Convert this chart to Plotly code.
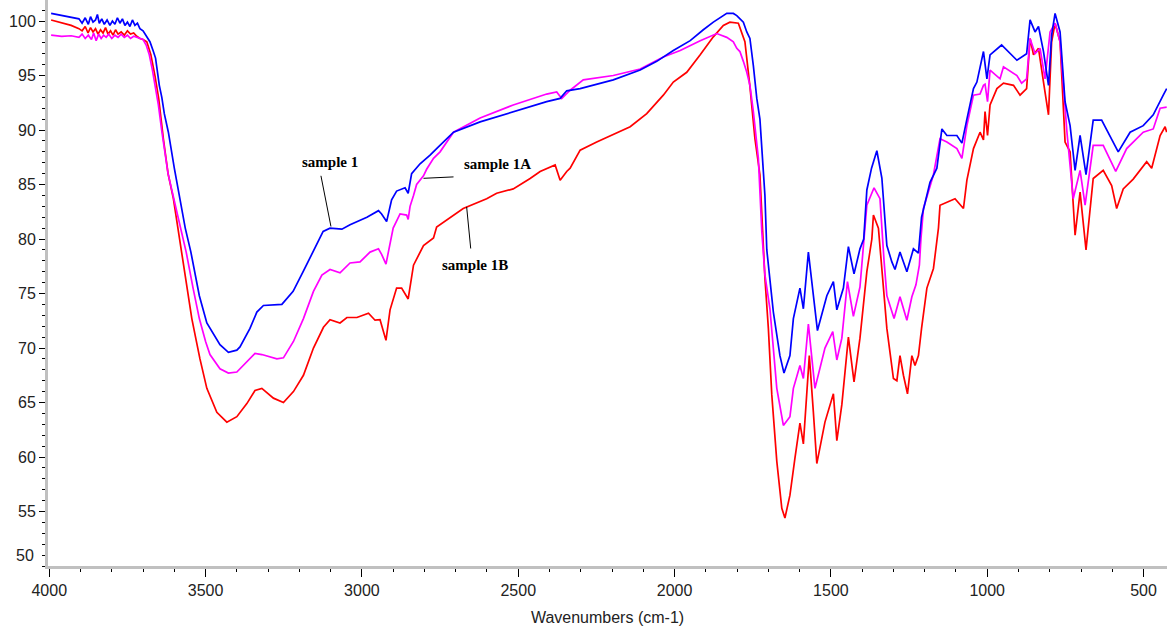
import plotly.graph_objects as go

# ---- FT-IR transmittance spectra (wavenumber in cm-1, %T) ----
wn_s1 = [3994, 3960, 3930, 3905, 3895, 3885, 3875, 3868, 3860, 3852, 3846, 3840, 3832, 3824,
         3815, 3806, 3798, 3790, 3782, 3774, 3766, 3758, 3750, 3742, 3734, 3726, 3718, 3710,
         3700, 3690, 3678, 3668, 3660, 3648, 3640, 3632, 3619, 3600, 3582, 3565, 3547, 3520,
         3496, 3470, 3454, 3427, 3400, 3390, 3358, 3336, 3315, 3256, 3220, 3188, 3156, 3124,
         3102, 3064, 3038, 2984, 2947, 2937, 2921, 2905, 2889, 2862, 2852, 2841, 2814, 2793,
         2782, 2761, 2740, 2707, 2622, 2516, 2409, 2366, 2345, 2302, 2196, 2110, 2057, 2004,
         1950, 1908, 1876, 1833, 1812, 1801, 1791, 1780, 1769, 1759, 1748, 1737, 1727, 1721,
         1711, 1705, 1684, 1663, 1650, 1631, 1620, 1599, 1588, 1572, 1556, 1543, 1513, 1492,
         1481, 1460, 1444, 1426, 1407, 1395, 1385, 1370, 1353, 1337, 1321, 1305, 1295, 1279,
         1257, 1236, 1220, 1215, 1210, 1183, 1161, 1145, 1129, 1097, 1081, 1065, 1044, 1033,
         1012, 1001, 991, 954, 905, 874, 863, 847, 836, 820, 804, 794, 783, 767, 751, 735, 719,
         703, 684, 661, 634, 581, 543, 501, 469, 437, 426]
t_s1 = [100.7, 100.5, 100.35, 100.2, 99.8, 100.3, 99.7, 100.4, 99.9, 100.1, 100.6, 99.8, 100.2, 99.7,
        100.1, 99.6, 100.0, 99.7, 100.3, 99.8, 100.2, 99.6, 99.9, 99.5, 100.1, 99.6, 99.8, 99.3,
        99.1, 98.6, 98.1, 97.3, 96.6, 94.1, 93.0, 91.5, 89.8, 86.5, 83.7, 81.0, 78.8, 74.8,
        72.3, 71.0, 70.3, 69.6, 69.8, 70.1, 71.8, 73.3, 73.9, 74.0, 75.2, 77.0, 78.9, 80.7,
        81.0, 80.9, 81.3, 82.0, 82.6, 82.3, 81.6, 83.6, 84.4, 84.7, 84.2, 86.0, 86.9, 87.4,
        87.7, 88.3, 88.9, 89.8, 90.75, 91.7, 92.6, 92.9, 93.6, 93.8, 94.6, 95.5, 96.3, 97.3,
        98.2, 99.2, 99.9, 100.7, 100.7, 100.5, 100.2, 99.9, 99.0, 98.4, 95.9, 92.9, 91.0, 88.0,
        84.0, 79.0, 73.3, 69.3, 67.7, 69.3, 72.7, 75.5, 73.6, 78.8, 74.8, 71.6, 74.8, 76.1,
        73.5, 75.5, 79.3, 76.8, 79.1, 80.0, 84.5, 86.5, 88.1, 85.6, 79.4, 77.9, 77.2, 78.8,
        77.0, 79.1, 78.7, 80.2, 82.0, 85.2, 86.5, 90.1, 89.5, 89.5, 88.8, 91.0, 93.8, 94.4,
        97.2, 94.7, 96.9, 97.8, 96.4, 97.0, 100.1, 99.0, 99.5, 97.2, 94.1, 98.7, 100.7, 99.0,
        92.6, 90.4, 86.3, 89.5, 85.9, 90.9, 90.9, 88.0, 89.8, 90.4, 91.4, 93.2, 93.8]

wn_s1a = [3994, 3960, 3930, 3905, 3895, 3885, 3875, 3865, 3858, 3850, 3842, 3834, 3826, 3818,
          3810, 3800, 3790, 3780, 3770, 3760, 3750, 3740, 3730, 3720, 3710, 3700, 3690, 3680,
          3670, 3662, 3651, 3640, 3620, 3592, 3562, 3540, 3520, 3500, 3486, 3454, 3427, 3400,
          3368, 3342, 3320, 3272, 3251, 3219, 3187, 3155, 3128, 3102, 3070, 3038, 3006, 2974,
          2947, 2937, 2923, 2910, 2900, 2878, 2857, 2852, 2846, 2835, 2825, 2803, 2793, 2771,
          2750, 2707, 2622, 2516, 2409, 2377, 2361, 2334, 2292, 2196, 2110, 2036, 1982, 1918,
          1865, 1833, 1812, 1801, 1791, 1780, 1769, 1759, 1748, 1732, 1721, 1711, 1695, 1673,
          1652, 1631, 1620, 1599, 1588, 1572, 1551, 1519, 1494, 1481, 1465, 1447, 1428, 1407,
          1391, 1385, 1362, 1343, 1330, 1321, 1298, 1279, 1257, 1241, 1228, 1217, 1212, 1204,
          1172, 1151, 1129, 1097, 1081, 1065, 1044, 1023, 1012, 1007, 999, 991, 959, 948, 905,
          890, 874, 863, 847, 831, 815, 799, 783, 767, 745, 725, 703, 687, 661, 629, 589, 554,
          501, 469, 447, 426]
t_s1a = [98.7, 98.6, 98.65, 98.5, 98.8, 98.4, 98.7, 98.3, 98.9, 98.2, 98.8, 98.4, 98.7, 98.5,
         98.8, 98.4, 98.7, 98.5, 98.8, 98.5, 98.7, 98.4, 98.6, 98.5, 98.45, 98.3, 97.8, 96.9,
         95.5, 94.3, 92.3, 89.9, 86.0, 82.5, 78.8, 75.5, 72.7, 70.6, 69.4, 68.1, 67.7, 67.8,
         68.7, 69.5, 69.4, 69.0, 69.1, 70.6, 72.7, 75.2, 76.7, 77.2, 76.9, 77.8, 77.9, 78.8,
         79.1, 78.6, 77.7, 79.4, 81.0, 82.3, 82.2, 81.8, 83.0, 84.0, 85.0, 85.8, 86.4, 87.4,
         88.0, 89.8, 91.1, 92.3, 93.3, 93.5, 92.9, 93.65, 94.6, 95.0, 95.6, 96.7, 97.3, 98.2,
         98.85, 98.5, 98.1, 97.5, 97.2, 96.3, 95.3, 94.1, 91.7, 87.4, 80.7, 76.7, 73.6, 66.3,
         62.9, 63.7, 66.3, 68.4, 67.2, 72.2, 66.3, 70.0, 71.5, 68.9, 70.9, 76.1, 72.9, 75.6,
         81.0, 83.1, 84.7, 83.7, 78.0, 74.8, 72.7, 74.7, 72.55, 74.7, 75.8, 77.6, 80.0, 82.8,
         85.9, 89.2, 88.9, 88.3, 87.4, 90.4, 93.2, 93.3, 94.1, 94.2, 92.6, 95.5, 94.7, 95.8, 95.0,
         94.3, 94.7, 98.4, 97.0, 97.5, 94.7, 99.0, 99.8, 98.1, 89.8, 83.7, 86.3, 83.1, 88.6, 88.6,
         86.2, 88.3, 89.8, 90.1, 92.0, 92.1]

wn_s1b = [3994, 3960, 3930, 3905, 3895, 3885, 3876, 3868, 3860, 3852, 3844, 3836, 3828, 3820,
          3812, 3804, 3796, 3788, 3780, 3770, 3760, 3750, 3740, 3730, 3720, 3710, 3700, 3688,
          3675, 3662, 3650, 3635, 3620, 3603, 3576, 3560, 3544, 3530, 3518, 3496, 3464, 3432,
          3400, 3368, 3342, 3320, 3283, 3251, 3219, 3187, 3155, 3123, 3102, 3070, 3048, 3016,
          2979, 2958, 2942, 2923, 2910, 2889, 2873, 2852, 2846, 2835, 2803, 2771, 2761, 2707,
          2676, 2601, 2569, 2516, 2462, 2430, 2382, 2366, 2345, 2334, 2302, 2249, 2142, 2089,
          2036, 2004, 1961, 1918, 1876, 1844, 1823, 1796, 1775, 1759, 1743, 1727, 1716, 1711,
          1700, 1689, 1673, 1657, 1647, 1631, 1615, 1599, 1588, 1569, 1556, 1545, 1519, 1492,
          1481, 1465, 1444, 1426, 1407, 1385, 1369, 1364, 1348, 1337, 1321, 1300, 1289, 1279,
          1268, 1255, 1241, 1231, 1220, 1210, 1193, 1172, 1156, 1151, 1103, 1076, 1065, 1044,
          1023, 1012, 1007, 999, 991, 969, 948, 916, 895, 874, 863, 852, 836, 820, 804, 794, 783,
          767, 751, 735, 719, 703, 684, 661, 629, 602, 586, 565, 533, 490, 474, 447, 431, 426]
t_s1b = [100.1, 99.8, 99.6, 99.3, 99.1, 99.5, 98.9, 99.4, 99.0, 99.3, 98.8, 99.2, 98.9, 99.4,
         98.8, 99.1, 98.7, 99.2, 98.8, 99.0, 98.7, 99.1, 98.8, 98.9, 98.6, 98.4, 98.3, 98.1,
         96.9, 95.0, 92.9, 89.2, 86.0, 83.7, 78.8, 75.8, 72.7, 70.7, 69.0, 66.3, 64.1, 63.2,
         63.7, 64.9, 66.1, 66.3, 65.4, 65.0, 66.0, 67.5, 70.0, 71.9, 72.6, 72.3, 72.8, 72.8,
         73.2, 72.55, 72.6, 70.7, 73.5, 75.5, 75.5, 74.5, 75.6, 77.6, 79.4, 80.1, 81.1, 82.2,
         82.8, 83.7, 84.2, 84.6, 85.55, 86.2, 86.8, 85.4, 86.2, 86.5, 88.15, 88.9, 90.3, 91.5,
         93.2, 94.4, 95.3, 96.9, 98.55, 99.6, 99.9, 99.8, 98.1, 94.0, 89.2, 85.9, 80.0, 76.4,
         71.8, 65.7, 59.6, 55.3, 54.4, 56.5, 59.9, 63.1, 61.2, 69.3, 64.1, 59.4, 63.2, 65.8,
         61.5, 64.8, 71.0, 66.9, 70.9, 77.0, 80.0, 82.2, 81.0, 77.3, 71.8, 67.2, 67.0, 69.3,
         67.5, 65.8, 69.3, 68.4, 69.3, 71.8, 75.5, 77.3, 81.0, 83.1, 83.7, 82.8, 85.4, 88.3,
         89.8, 89.1, 91.7, 89.5, 92.3, 93.8, 94.3, 94.1, 93.2, 93.8, 98.4, 96.9, 97.5, 94.4, 91.4,
         98.1, 99.8, 98.1, 88.9, 88.0, 80.35, 84.3, 79.0, 85.55, 86.3, 84.9, 82.8, 84.6, 85.5,
         87.1, 86.5, 89.5, 90.3, 89.8]

series_names = ["sample 1B", "sample 1A", "sample 1"]
series_colors = ["#FF0000", "#FF00FF", "#0000FF"]

# Callout labels: text, text anchor (wn, %T), leader line from (wn, %T) to (wn, %T)
callouts = [
    ("sample 1", (3102, 87.1), (3131, 85.8), (3099, 81.15)),
    ("sample 1A", (2567, 86.9), (2803, 85.57), (2707, 85.7)),
    ("sample 1B", (2638, 77.6), (2665, 82.95), (2652, 79.13)),
]

y_ticks = [55, 60, 65, 70, 75, 80, 85, 90, 95, 100]

fig = go.Figure()
for wn, t, name, col in zip([wn_s1b, wn_s1a, wn_s1], [t_s1b, t_s1a, t_s1],
                            series_names, series_colors):
    fig.add_trace(go.Scatter(x=wn, y=t, mode="lines", name=name,
                             line=dict(color=col, width=1.7), showlegend=False))

label_font = dict(family="Liberation Serif, Times New Roman, serif", size=15, color="black")
for text, (tx, ty), (x0, y0), (x1, y1) in callouts:
    fig.add_annotation(x=tx, y=ty, text=f"<b>{text}</b>", showarrow=False, font=label_font,
                       xref="x", yref="y")
    fig.add_shape(type="line", x0=x0, y0=y0, x1=x1, y1=y1, xref="x", yref="y",
                  line=dict(color="black", width=1))

# lowest y tick label sits just above the x axis line
fig.add_annotation(x=0, xref="paper", xanchor="right", xshift=-12, y=50, yref="y",
                   yshift=11, text="50", showarrow=False,
                   font=dict(family="Liberation Sans, Arial, sans-serif", size=16, color="#222"))

axis_font = dict(family="Liberation Sans, Arial, sans-serif", size=16, color="#222")
fig.update_xaxes(range=[4004, 425], showgrid=False, zeroline=False,
                 showline=True, linecolor="#C0C0C0", linewidth=3,
                 tickmode="array", tickvals=[4000, 3500, 3000, 2500, 2000, 1500, 1000, 500],
                 ticks="outside", ticklen=8, tickwidth=1, tickcolor="black",
                 minor=dict(dtick=100, ticks="outside", ticklen=3, tickcolor="black", tickwidth=1),
                 tickfont=axis_font,
                 title=dict(text="Wavenumbers (cm-1)", font=axis_font, standoff=14))
fig.update_yaxes(range=[50, 101.93], showgrid=False, zeroline=False,
                 showline=True, linecolor="#C0C0C0", linewidth=3,
                 tickmode="array", tickvals=y_ticks,
                 ticks="outside", ticklen=6, tickwidth=1, tickcolor="black",
                 minor=dict(dtick=1, ticks="outside", ticklen=3, tickcolor="black", tickwidth=1),
                 tickfont=axis_font)
fig.update_layout(width=1167, height=626, margin=dict(l=48, r=0, t=0, b=60),
                  plot_bgcolor="white", paper_bgcolor="white")

fig.write_html("out.html")
